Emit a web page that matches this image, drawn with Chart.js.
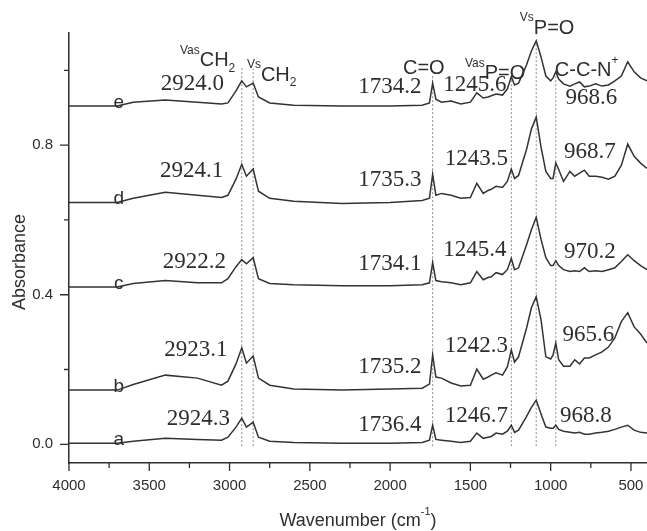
<!DOCTYPE html>
<html>
<head>
<meta charset="utf-8">
<script src="https://cdn.jsdelivr.net/npm/chart.js@4.4.1/dist/chart.umd.min.js"></script>
<style>
  html, body { margin: 0; padding: 0; background: #fff; }
  #wrap { width: 647px; height: 531px; }
</style>
</head>
<body>
<div id="wrap"><canvas id="chart" width="647" height="531"></canvas></div>
<script>
const SANS = '"Liberation Sans", Arial, sans-serif';
const SERIF = '"Liberation Serif", "Times New Roman", serif';
const INK = "#2e2e2e";

// wavenumber grid (cm-1), shared by all five spectra
const wavenumbers = [4000, 3700, 3600, 3400, 3200, 3050, 3010, 2960, 2924, 2895,
  2853, 2820, 2750, 2600, 2300, 2000, 1800, 1755, 1735, 1715,
  1680, 1620, 1560, 1500, 1460, 1420, 1390, 1370, 1340, 1300,
  1270, 1245, 1225, 1200, 1150, 1120, 1090, 1060, 1030, 1000,
  985, 968, 950, 920, 880, 850, 820, 790, 760, 720,
  680, 640, 600, 560, 520, 480, 440, 400];

const seriesA = [0.003, 0.003, 0.008, 0.016, 0.013, 0.011, 0.019, 0.046, 0.070, 0.046,
  0.059, 0.019, 0.008, 0.005, 0.003, 0.003, 0.005, 0.011, 0.051, 0.013,
  0.011, 0.008, 0.005, 0.008, 0.030, 0.016, 0.019, 0.021, 0.030, 0.027,
  0.035, 0.051, 0.032, 0.038, 0.075, 0.099, 0.118, 0.081, 0.046, 0.043,
  0.043, 0.051, 0.040, 0.035, 0.032, 0.030, 0.032, 0.027, 0.027, 0.030,
  0.032, 0.035, 0.040, 0.046, 0.051, 0.038, 0.032, 0.030];

const seriesB = [0.145, 0.145, 0.160, 0.185, 0.177, 0.158, 0.169, 0.215, 0.258, 0.217,
  0.236, 0.177, 0.158, 0.148, 0.145, 0.148, 0.150, 0.161, 0.239, 0.180,
  0.177, 0.164, 0.156, 0.158, 0.201, 0.174, 0.180, 0.185, 0.191, 0.185,
  0.207, 0.252, 0.220, 0.234, 0.311, 0.365, 0.395, 0.333, 0.234, 0.228,
  0.239, 0.271, 0.226, 0.209, 0.209, 0.226, 0.215, 0.231, 0.231, 0.239,
  0.247, 0.260, 0.285, 0.328, 0.352, 0.314, 0.295, 0.271];

const seriesC = [0.421, 0.421, 0.430, 0.438, 0.432, 0.432, 0.443, 0.475, 0.494, 0.483,
  0.499, 0.443, 0.430, 0.427, 0.424, 0.424, 0.427, 0.432, 0.486, 0.438,
  0.435, 0.432, 0.427, 0.432, 0.462, 0.440, 0.446, 0.448, 0.459, 0.454,
  0.467, 0.497, 0.467, 0.472, 0.534, 0.574, 0.607, 0.548, 0.499, 0.478,
  0.478, 0.491, 0.478, 0.467, 0.462, 0.464, 0.462, 0.472, 0.462, 0.464,
  0.462, 0.467, 0.472, 0.489, 0.507, 0.491, 0.478, 0.467];

const seriesD = [0.647, 0.647, 0.658, 0.674, 0.666, 0.660, 0.666, 0.709, 0.749, 0.717,
  0.736, 0.677, 0.658, 0.650, 0.644, 0.647, 0.652, 0.658, 0.722, 0.666,
  0.671, 0.666, 0.658, 0.660, 0.698, 0.671, 0.679, 0.682, 0.690, 0.687,
  0.703, 0.736, 0.711, 0.719, 0.789, 0.843, 0.875, 0.795, 0.730, 0.711,
  0.711, 0.752, 0.735, 0.703, 0.730, 0.717, 0.725, 0.733, 0.717, 0.717,
  0.714, 0.709, 0.717, 0.746, 0.803, 0.770, 0.752, 0.738];

const seriesE = [0.905, 0.905, 0.915, 0.921, 0.915, 0.910, 0.913, 0.945, 0.972, 0.956,
  0.966, 0.929, 0.913, 0.907, 0.905, 0.905, 0.907, 0.913, 0.966, 0.923,
  0.915, 0.918, 0.910, 0.915, 0.940, 0.926, 0.929, 0.932, 0.937, 0.934,
  0.950, 0.983, 0.961, 0.966, 1.015, 1.052, 1.079, 1.036, 0.985, 0.972,
  0.980, 0.996, 0.977, 0.964, 0.958, 0.964, 0.969, 0.956, 0.958, 0.964,
  0.958, 0.961, 0.972, 0.985, 1.023, 0.996, 0.980, 0.972];

const curveNames = ["a", "b", "c", "d", "e"];
const curveLabelY = [-0.002, 0.140, 0.416, 0.642, 0.900];
const curveLabelX = 3690;

const xTicks = [4000, 3500, 3000, 2500, 2000, 1500, 1000, 500];
const xMinorTicks = [3750, 3250, 2750, 2250, 1750, 1250, 750];
const yTicks = [0, 0.4, 0.8];
const yMinorTicks = [0.2, 0.6, 1.0];

// dotted guide lines at the assigned bands
const markerWavenumbers = [2924, 2853, 1735, 1245, 1090, 968];
const markerTops = [1.009, 1.004, 0.985, 0.995, 1.077, 0.985];
const markerBottom = -0.005;

// peak positions written next to each spectrum: text, wavenumber, absorbance
const peakLabels = [
  ["2924.0", 3231, 0.964], ["1734.2", 2001, 0.956], ["1245.6", 1472, 0.961], ["968.6", 747, 0.926],
  ["2924.1", 3237, 0.730], ["1735.3", 2001, 0.706], ["1243.5", 1463, 0.762], ["968.7", 756, 0.781],
  ["2922.2", 3219, 0.489], ["1734.1", 2001, 0.483], ["1245.4", 1472, 0.521], ["970.2", 756, 0.515],
  ["2923.1", 3209, 0.252], ["1735.2", 2001, 0.207], ["1242.3", 1463, 0.263], ["965.6", 765, 0.293],
  ["2924.3", 3194, 0.067], ["1736.4", 2001, 0.051], ["1246.7", 1463, 0.075], ["968.8", 781, 0.075],
];

// band assignments: parts [text, "sup"|"sub"], left wavenumber, baseline absorbance
const bandLabels = [
  { parts: [["Vas", "sup"], ["CH"], ["2", "sub"]], x: 3309, y: 1.012 },
  { parts: [["Vs", "sup"], ["CH"], ["2", "sub"]], x: 2892, y: 0.972 },
  { parts: [["C=O"]], x: 1920, y: 0.991 },
  { parts: [["Vas", "sup"], ["P=O"]], x: 1534, y: 0.977 },
  { parts: [["Vs", "sup"], ["P=O"]], x: 1192, y: 1.098 },
  { parts: [["C-C-N"], ["+", "sup"]], x: 974, y: 0.985 },
];

function drawRich(ctx, parts, x, y, size) {
  let cx = x;
  parts.forEach(([t, kind]) => {
    const s = kind ? Math.round(size * 0.6) : size;
    ctx.font = s + "px " + SANS;
    const dy = kind === "sup" ? -size * 0.62 : kind === "sub" ? size * 0.28 : 0;
    ctx.fillText(t, cx, y + dy);
    cx += ctx.measureText(t).width;
  });
  return cx - x;
}

function richWidth(ctx, parts, size) {
  let w = 0;
  parts.forEach(([t, kind]) => {
    const s = kind ? Math.round(size * 0.6) : size;
    ctx.font = s + "px " + SANS;
    w += ctx.measureText(t).width;
  });
  return w;
}

const overlay = {
  id: "overlay",
  afterDraw(chart) {
    const ctx = chart.ctx;
    const xs = chart.scales.x, ys = chart.scales.y;
    const area = chart.chartArea;
    const X = (v) => xs.getPixelForValue(v);
    const Y = (v) => ys.getPixelForValue(v);
    ctx.save();

    // tick marks
    ctx.strokeStyle = INK;
    ctx.lineWidth = 1.3;
    ctx.beginPath();
    xTicks.forEach((v) => { ctx.moveTo(X(v), area.bottom); ctx.lineTo(X(v), area.bottom + 8); });
    xMinorTicks.forEach((v) => { ctx.moveTo(X(v), area.bottom); ctx.lineTo(X(v), area.bottom + 5); });
    yTicks.forEach((v) => { ctx.moveTo(area.left, Y(v)); ctx.lineTo(area.left - 9, Y(v)); });
    yMinorTicks.forEach((v) => { ctx.moveTo(area.left, Y(v)); ctx.lineTo(area.left - 5, Y(v)); });
    ctx.stroke();

    ctx.fillStyle = INK;

    // spectrum letters
    ctx.font = "19px " + SANS;
    ctx.textAlign = "center";
    ctx.textBaseline = "alphabetic";
    curveNames.forEach((n, i) => ctx.fillText(n, X(curveLabelX), Y(curveLabelY[i])));

    // peak wavenumbers
    ctx.font = "23px " + SERIF;
    ctx.textBaseline = "middle";
    peakLabels.forEach(([t, x, y]) => ctx.fillText(t, X(x), Y(y)));

    // band assignments
    ctx.textAlign = "left";
    ctx.textBaseline = "alphabetic";
    bandLabels.forEach((b) => drawRich(ctx, b.parts, X(b.x), Y(b.y), 20));

    // axis titles
    const xParts = [["Wavenumber (cm"], ["-1", "sup"], [")"]];
    const w = richWidth(ctx, xParts, 18);
    drawRich(ctx, xParts, (area.left + area.right) / 2 - w / 2, 526, 18);

    ctx.translate(20, 262);
    ctx.rotate(-Math.PI / 2);
    ctx.font = "18px " + SANS;
    ctx.textAlign = "center";
    ctx.textBaseline = "middle";
    ctx.fillText("Absorbance", 0, 0);

    ctx.restore();
  },
};

const allSeries = [seriesA, seriesB, seriesC, seriesD, seriesE];
const curveSets = allSeries.map((vals, i) => ({
  label: curveNames[i],
  data: wavenumbers.map((w, j) => ({ x: w, y: vals[j] })),
  borderColor: "#333",
  borderWidth: 1.5,
  pointRadius: 0,
  tension: 0,
  fill: false,
}));
const markerSets = markerWavenumbers.map((w, i) => ({
  label: "guide " + w,
  data: [{ x: w, y: markerBottom }, { x: w, y: markerTops[i] }],
  borderColor: "#8c8c8c",
  borderWidth: 1,
  borderDash: [2, 2],
  pointRadius: 0,
  fill: false,
}));

new Chart(document.getElementById("chart").getContext("2d"), {
  type: "line",
  data: { datasets: curveSets.concat(markerSets) },
  options: {
    responsive: false,
    animation: false,
    devicePixelRatio: 1,
    layout: { padding: { top: 33, right: 0, left: 0, bottom: 0 } },
    plugins: { legend: { display: false }, tooltip: { enabled: false } },
    scales: {
      x: {
        type: "linear", reverse: true, min: 400, max: 4000,
        afterFit: (s) => { s.height = 68; s.paddingLeft = 0; s.paddingRight = 0; },
        afterBuildTicks: (s) => { s.ticks = xTicks.map((v) => ({ value: v })); },
        grid: { display: false, drawTicks: false },
        border: { display: true, color: INK, width: 1.5 },
        ticks: { color: INK, font: { family: SANS, size: 15 }, padding: 14, maxRotation: 0, autoSkip: false,
                 callback: (v) => String(v) },
      },
      y: {
        type: "linear", min: -0.05, max: 1.1,
        afterFit: (s) => { s.width = 69; s.paddingTop = 0; s.paddingBottom = 0; },
        afterBuildTicks: (s) => { s.ticks = yTicks.map((v) => ({ value: v })); },
        grid: { display: false, drawTicks: false },
        border: { display: true, color: INK, width: 1.5 },
        ticks: { color: INK, font: { family: SANS, size: 15 }, padding: 16,
                 callback: (v) => v.toFixed(1) },
      },
    },
  },
  plugins: [overlay],
});
</script>
</body>
</html>
